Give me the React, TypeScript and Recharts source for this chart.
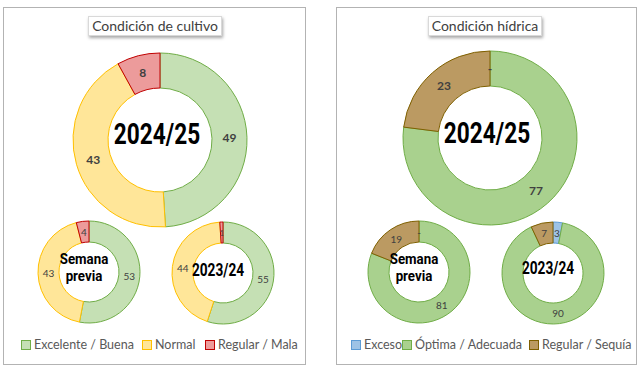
import { PieChart, Pie, Cell } from "recharts";

// Condición de cultivo
const cultivoCategories = ["Excelente / Buena", "Normal", "Regular / Mala"];
const cultivoActual = [49, 43, 8];
const cultivoSemanaPrevia = [53, 43, 4];
const cultivoAnterior = [55, 44, 1];

// Condición hídrica
const hidricaCategories = ["Exceso", "Óptima / Adecuada", "Regular / Sequía"];
const hidricaActual = [0, 77, 23];
const hidricaSemanaPrevia = [0, 81, 19];
const hidricaAnterior = [3, 90, 7];

const cultivoFill = ["#c5e0b4", "#ffe699", "#ec9b9b"];
const cultivoStroke = ["#70ad47", "#ffc000", "#c00000"];
const hidricaFill = ["#9dc3e6", "#a9d18e", "#bb9a62"];
const hidricaStroke = ["#5b9bd5", "#70ad47", "#7f6000"];

const toRows = (cats: string[], vals: number[]) =>
  cats.map((name, i) => ({ name, value: vals[i] }));

const RAD = Math.PI / 180;

const makeLabel = (fontSize: number, bold: boolean) => (props: any) => {
  const { cx, cy, midAngle, innerRadius, outerRadius, value } = props;
  const r = (innerRadius + outerRadius) / 2;
  const x = cx + r * Math.cos(-midAngle * RAD);
  const y = cy + r * Math.sin(-midAngle * RAD);
  return (
    <text
      x={x}
      y={y}
      textAnchor="middle"
      dominantBaseline="central"
      fill="#404040"
      fontSize={value <= 1 && value > 0 ? 7 : fontSize}
      fontWeight={bold ? 700 : 400}
      fontFamily="Lato"
    >
      {value === 0 ? "-" : value}
    </text>
  );
};

const bigLabel = makeLabel(12, true);
const smallLabel = makeLabel(10, false);

const donuts = [
  { vals: cultivoActual, cats: cultivoCategories, fill: cultivoFill, stroke: cultivoStroke, cx: 155, cy: 135, r: 87, ir: 52, big: true },
  { vals: cultivoSemanaPrevia, cats: cultivoCategories, fill: cultivoFill, stroke: cultivoStroke, cx: 84, cy: 267, r: 51, ir: 30, big: false },
  { vals: cultivoAnterior, cats: cultivoCategories, fill: cultivoFill, stroke: cultivoStroke, cx: 218, cy: 268, r: 51, ir: 30, big: false },
  { vals: hidricaActual, cats: hidricaCategories, fill: hidricaFill, stroke: hidricaStroke, cx: 485, cy: 133, r: 87, ir: 52, big: true },
  { vals: hidricaSemanaPrevia, cats: hidricaCategories, fill: hidricaFill, stroke: hidricaStroke, cx: 414, cy: 267, r: 51, ir: 30, big: false },
  { vals: hidricaAnterior, cats: hidricaCategories, fill: hidricaFill, stroke: hidricaStroke, cx: 548, cy: 268, r: 51, ir: 30, big: false },
];

const abs = (x: number, y: number, extra: any = {}) => ({
  position: "absolute" as const,
  left: x,
  top: y,
  ...extra,
});

function CenterText({ x, y, lines, size, scale, lh }: { x: number; y: number; lines: string[]; size: number; scale: number; lh?: number }) {
  return (
    <div
      style={abs(x - 100, y, {
        width: 200,
        transform: `translateY(-50%) scaleX(${scale})`,
        textAlign: "center",
        fontFamily: "Roboto",
        fontWeight: 700,
        fontSize: size,
        lineHeight: `${lh ?? Math.round(size * 1.2)}px`,
        color: "#000",
      })}
    >
      {lines.map((l) => (
        <div key={l}>{l}</div>
      ))}
    </div>
  );
}

function Title({ x, w, text }: { x: number; w: number; text: string }) {
  return (
    <div
      style={abs(x, 16, {
        width: w,
        height: 18,
        background: "#fff",
        border: "1px solid #d9d9d9",
        boxShadow: "1px 2px 3px rgba(0,0,0,0.35)",
        fontFamily: "Lato",
        fontSize: 14,
        lineHeight: "18px",
        textAlign: "center",
        color: "#404040",
      })}
    >
      {text}
    </div>
  );
}

function LegendItem({ x, label, fill, stroke }: { x: number; label: string; fill: string; stroke: string }) {
  return (
    <div style={abs(x, 337, { display: "flex", alignItems: "center", fontFamily: "Lato", fontSize: 12.5, lineHeight: "16px", color: "#595959", whiteSpace: "nowrap" })}>
      <span style={{ display: "inline-block", width: 8, height: 8, background: fill, border: `1px solid ${stroke}`, marginRight: 3 }} />
      {label}
    </div>
  );
}

export default function App() {
  return (
    <div style={{ position: "absolute", left: 0, top: 0, width: 640, height: 371, background: "#fff", overflow: "hidden" }}>
      <div style={abs(3, 7, { width: 301, height: 356, border: "1.5px solid #b3b3b3" })} />
      <div style={abs(336, 7, { width: 299, height: 356, border: "1.5px solid #b3b3b3" })} />
      <div style={abs(0, 0)}>
        <PieChart width={640} height={371}>
          {donuts.map((d, k) => (
            <Pie
              key={k}
              data={toRows(d.cats, d.vals)}
              dataKey="value"
              nameKey="name"
              cx={d.cx}
              cy={d.cy}
              innerRadius={d.ir}
              outerRadius={d.r}
              startAngle={90}
              endAngle={-270}
              label={d.big ? bigLabel : smallLabel}
              labelLine={false}
              isAnimationActive={false}
            >
              {d.vals.map((_, i) => (
                <Cell key={i} fill={d.fill[i]} stroke={d.stroke[i]} strokeWidth={1} />
              ))}
            </Pie>
          ))}
        </PieChart>
      </div>
      <Title x={88} w={132} text="Condición de cultivo" />
      <Title x={428} w={112} text="Condición hídrica" />
      <CenterText x={157} y={134} lines={["2024/25"]} size={29} scale={0.78} />
      <CenterText x={487} y={133} lines={["2024/25"]} size={29} scale={0.78} />
      <CenterText x={84} y={268} lines={["Semana", "previa"]} size={14} lh={17} scale={0.95} />
      <CenterText x={218} y={270} lines={["2023/24"]} size={18} scale={0.76} />
      <CenterText x={414} y={268} lines={["Semana", "previa"]} size={14} lh={17} scale={0.95} />
      <CenterText x={548} y={268} lines={["2023/24"]} size={18} scale={0.76} />
      <LegendItem x={21} label={cultivoCategories[0]} fill={cultivoFill[0]} stroke={cultivoStroke[0]} />
      <LegendItem x={142} label={cultivoCategories[1]} fill={cultivoFill[1]} stroke={cultivoStroke[1]} />
      <LegendItem x={205} label={cultivoCategories[2]} fill={cultivoFill[2]} stroke={cultivoStroke[2]} />
      <LegendItem x={351} label={hidricaCategories[0]} fill={hidricaFill[0]} stroke={hidricaStroke[0]} />
      <LegendItem x={402} label={hidricaCategories[1]} fill={hidricaFill[1]} stroke={hidricaStroke[1]} />
      <LegendItem x={529} label={hidricaCategories[2]} fill={hidricaFill[2]} stroke={hidricaStroke[2]} />
    </div>
  );
}
